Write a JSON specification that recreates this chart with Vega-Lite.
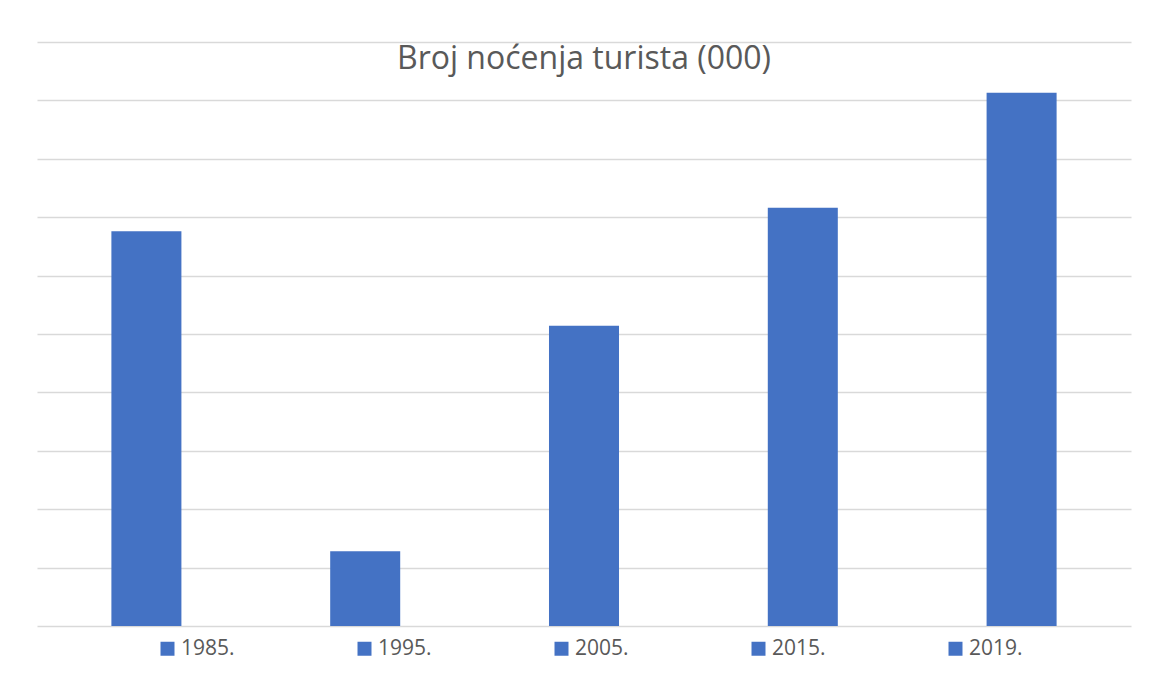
{
  "$schema": "https://vega.github.io/schema/vega-lite/v6.json",
  "width": 1094,
  "height": 584,
  "autosize": {"type": "none"},
  "padding": {"left": 37, "top": 42, "right": 18, "bottom": 52},
  "background": "white",
  "title": {
    "text": "Broj noćenja turista (000)",
    "font": "Open Sans",
    "fontSize": 32,
    "fontWeight": "normal",
    "color": "#595959",
    "anchor": "middle",
    "baseline": "top",
    "offset": 0,
    "dy": 34
  },
  "data": {
    "values": [
      {"godina": "1985.", "nocenja": 6760},
      {"godina": "1995.", "nocenja": 1280},
      {"godina": "2005.", "nocenja": 5140},
      {"godina": "2015.", "nocenja": 7160},
      {"godina": "2019.", "nocenja": 9130}
    ]
  },
  "mark": {"type": "bar", "color": "#4472C4"},
  "encoding": {
    "x": {
      "field": "godina",
      "type": "nominal",
      "sort": null,
      "scale": {"paddingInner": 0.68, "paddingOuter": 0.34},
      "axis": null
    },
    "y": {
      "field": "nocenja",
      "type": "quantitative",
      "scale": {"domain": [0, 10000], "nice": false},
      "axis": {
        "values": [0, 1000, 2000, 3000, 4000, 5000, 6000, 7000, 8000, 9000, 10000],
        "labels": false,
        "ticks": false,
        "domain": false,
        "title": null,
        "grid": true,
        "gridColor": "#d9d9d9",
        "gridWidth": 1.5
      }
    },
    "fill": {
      "field": "godina",
      "type": "nominal",
      "sort": null,
      "scale": {"range": ["#4472C4", "#4472C4", "#4472C4", "#4472C4", "#4472C4"]},
      "legend": {
        "title": null,
        "orient": "none",
        "legendX": 120,
        "legendY": 596,
        "direction": "horizontal",
        "columns": 5,
        "symbolType": "square",
        "symbolSize": 196,
        "symbolStrokeWidth": 0,
        "labelFont": "Open Sans",
        "labelFontSize": 21,
        "labelColor": "#595959",
        "labelOffset": 3,
        "columnPadding": 119
      }
    }
  },
  "config": {"view": {"stroke": null}}
}
